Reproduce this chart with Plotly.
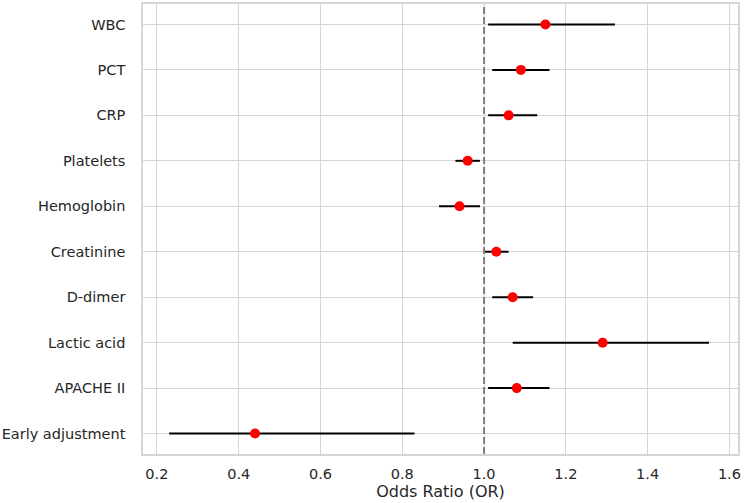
import plotly.graph_objects as go

variables = ["WBC", "PCT", "CRP", "Platelets", "Hemoglobin", "Creatinine",
             "D-dimer", "Lactic acid", "APACHE II", "Early adjustment"]
odds_ratio = [1.15, 1.09, 1.06, 0.96, 0.94, 1.03, 1.07, 1.29, 1.08, 0.44]
ci_lower = [1.01, 1.02, 1.01, 0.93, 0.89, 1.00, 1.02, 1.07, 1.01, 0.23]
ci_upper = [1.32, 1.16, 1.13, 0.99, 0.99, 1.06, 1.12, 1.55, 1.16, 0.83]

err_plus = [u - o for u, o in zip(ci_upper, odds_ratio)]
err_minus = [o - l for o, l in zip(odds_ratio, ci_lower)]

FONT = "DejaVu Sans"
GRID = "#d6d6d6"
TXT = "#262626"

fig = go.Figure()
fig.add_trace(go.Scatter(
    x=odds_ratio, y=variables, mode="markers",
    marker=dict(color="red", size=10, line=dict(width=0)),
    error_x=dict(type="data", symmetric=False, array=err_plus, arrayminus=err_minus,
                 color="black", thickness=2, width=0),
    showlegend=False,
))

fig.add_vline(x=1.0, line=dict(color="#808080", width=2, dash="7px,3px"), layer="above")

fig.update_layout(
    width=744, height=503,
    margin=dict(l=140, r=6, t=2, b=49),
    plot_bgcolor="white", paper_bgcolor="white",
    font=dict(family=FONT, size=14.5, color=TXT),
)
fig.update_xaxes(
    range=[0.166, 1.621],
    tickvals=[0.2, 0.4, 0.6, 0.8, 1.0, 1.2, 1.4, 1.6],
    ticktext=["0.2", "0.4", "0.6", "0.8", "1.0", "1.2", "1.4", "1.6"],
    showgrid=True, gridcolor=GRID, gridwidth=1,
    showline=True, linecolor=GRID, linewidth=1.5, mirror=True,
    zeroline=False, ticks="", ticklabelstandoff=6,
    title=dict(text="Odds Ratio (OR)", font=dict(size=16, color=TXT), standoff=4),
    tickfont=dict(size=14.5, color=TXT),
)
fig.update_yaxes(
    type="category", categoryorder="array", categoryarray=variables,
    range=[9.45, -0.45],
    showgrid=True, gridcolor=GRID, gridwidth=1,
    showline=True, linecolor=GRID, linewidth=1.5, mirror=True,
    zeroline=False, ticks="", ticklabelstandoff=13,
    tickfont=dict(size=14.5, color=TXT),
)

fig.write_html("out.html")
